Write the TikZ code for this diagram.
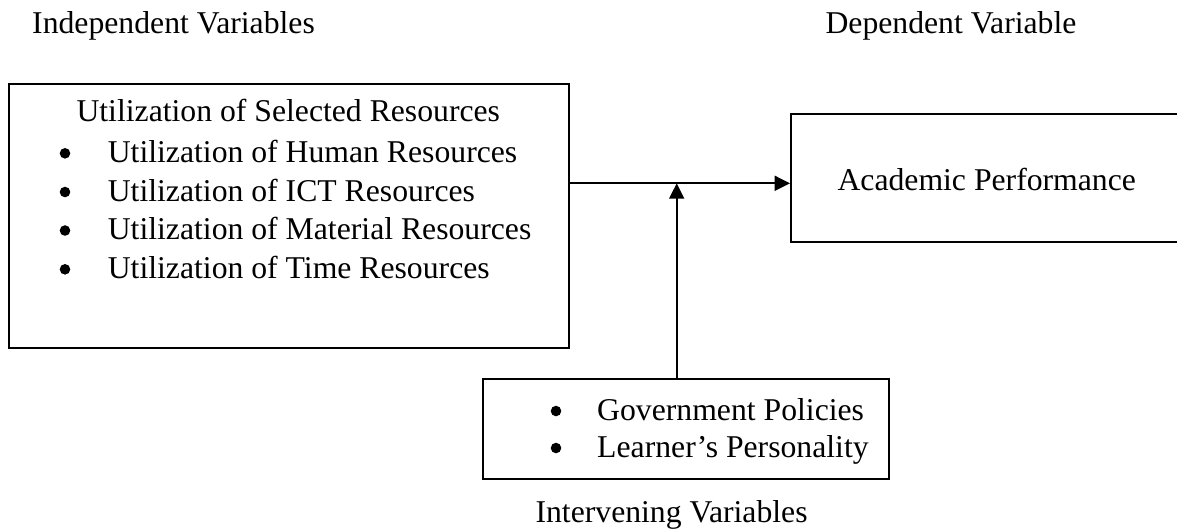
\documentclass[tikz,border=0pt]{standalone}
\usepackage{fontspec}
\setmainfont{Liberation Serif}
\usetikzlibrary{arrows.meta}
\begin{document}
\begin{tikzpicture}[x=0.3785pt,y=-0.3785pt,
  txt/.style={anchor=base west,inner sep=0pt,font=\fontsize{12}{14}\selectfont},
  bul/.style={circle,fill=black,inner sep=0pt,minimum size=4pt,yshift=3.4pt},
  boxline/.style={draw=black,line width=0.8pt},
  conn/.style={line width=0.9pt,-{Triangle[length=5.8pt,width=5.6pt]}}]
\useasboundingbox (0,0) rectangle (1177,531);
\clip (0,0) rectangle (1177,531);
% headings
\node[txt] (hind) at (31.7,33) {Independent Variables};
\node[txt] (hdep) at (825,33) {Dependent Variable};
\node[txt] (hint) at (535,522) {Intervening Variables};
% boxes
\node[boxline,anchor=north west,minimum width=559.4*0.3785pt,minimum height=264*0.3785pt,inner sep=0pt] (lbox) at (8.3,83.3) {};
\node[boxline,anchor=north west,minimum width=420*0.3785pt,minimum height=127.4*0.3785pt,inner sep=0pt] (rbox) at (790,113.3) {};
\node[boxline,anchor=north west,minimum width=406.6*0.3785pt,minimum height=100*0.3785pt,inner sep=0pt] (bbox) at (481.7,377.7) {};
% left box text
\node[txt] (ltitle) at (76,121.7) {Utilization of Selected Resources};
\node[bul] (b1) at (65,162.3) {};
\node[txt] (t1) at (107.3,162.3) {Utilization of Human Resources};
\node[bul] (b2) at (65,201) {};
\node[txt] (t2) at (107.3,201) {Utilization of ICT Resources};
\node[bul] (b3) at (65,239.5) {};
\node[txt] (t3) at (107.3,239.5) {Utilization of Material Resources};
\node[bul] (b4) at (65,278.3) {};
\node[txt] (t4) at (107.3,278.3) {Utilization of Time Resources};
% right box text
\node[txt] (ap) at (837,190) {Academic Performance};
% bottom box text
\node[bul] (b5) at (556,420) {};
\node[txt] (t5) at (596.7,420) {Government Policies};
\node[bul] (b6) at (556,457) {};
\node[txt] (t6) at (596.7,457) {Learner’s Personality};
% connectors
\coordinate (j) at (676.7,183.3);
\coordinate (bt) at (676.7,377.7);
\draw[conn] (lbox.east |- j) -- (rbox.west |- j);
\draw[conn] (bt) -- (j);
\end{tikzpicture}
\end{document}
